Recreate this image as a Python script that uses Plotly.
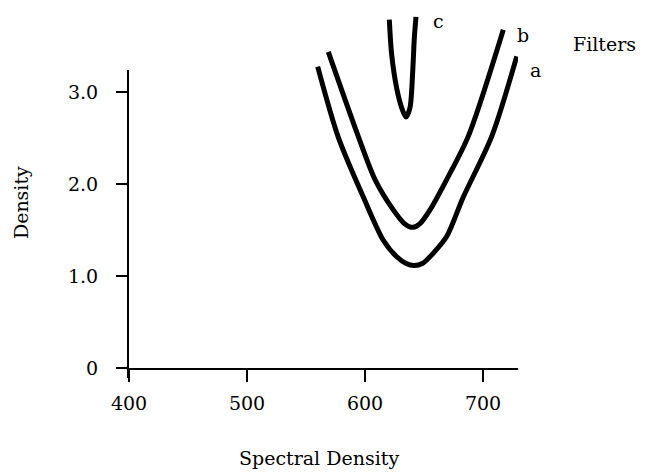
import plotly.graph_objects as go

# Data
series_names = ["a", "b", "c"]

a_x = [559.9, 577.4, 598.6, 615.5, 626.9, 634.5, 641.5, 649.0, 657.9, 669.2, 683.3, 707.4, 728.6]
a_y = [3.28, 2.51, 1.86, 1.39, 1.21, 1.14, 1.115, 1.14, 1.25, 1.43, 1.86, 2.52, 3.39]

b_x = [568.9, 594.3, 608.5, 624.0, 633.5, 640.7, 646.6, 655.1, 669.2, 687.5, 717.2]
b_y = [3.44, 2.52, 2.05, 1.72, 1.57, 1.53, 1.57, 1.72, 2.05, 2.52, 3.68]

c_x = [620.6, 622.6, 626.9, 631.1, 634.7, 638.1, 640.4, 641.8, 643.2]
c_y = [3.79, 3.41, 3.04, 2.83, 2.73, 2.83, 3.22, 3.59, 3.82]

x_ticks = [400, 500, 600, 700]
x_ticklabels = ["400", "500", "600", "700"]
y_ticks = [0, 1, 2, 3]
y_ticklabels = ["0", "1.0", "2.0", "3.0"]

legend_title = "Filters"
x_title = "Spectral Density"
y_title = "Density"

FONT = "DejaVu Serif"
FS = 19

fig = go.Figure()
for name, xs, ys in zip(series_names, [a_x, b_x, c_x], [a_y, b_y, c_y]):
    fig.add_trace(go.Scatter(
        x=xs, y=ys, mode="lines", name=name,
        line=dict(color="black", width=5, shape="spline", smoothing=0.8),
        showlegend=False,
    ))

# curve labels (paper coordinates)
label_pos = {"a": (1.046, 0.832), "b": (1.013, 0.930), "c": (0.797, 0.969)}
for name in series_names:
    lx, ly = label_pos[name]
    fig.add_annotation(x=lx, y=ly, xref="paper", yref="paper", text=name, showarrow=False,
                       xanchor="center", yanchor="middle",
                       font=dict(family=FONT, size=FS, color="black"))
fig.add_annotation(x=1.223, y=0.905, xref="paper", yref="paper", text=legend_title, showarrow=False,
                   xanchor="center", yanchor="middle",
                   font=dict(family=FONT, size=FS, color="black"))
fig.add_annotation(x=-0.274, y=0.461, xref="paper", yref="paper", text=y_title, showarrow=False,
                   xanchor="center", yanchor="middle", textangle=-90,
                   font=dict(family=FONT, size=FS, color="black"))
fig.add_annotation(x=0.49, y=-0.252, xref="paper", yref="paper", text=x_title, showarrow=False,
                   xanchor="center", yanchor="middle",
                   font=dict(family=FONT, size=FS, color="black"))

# visible y-axis line (stops near the 3.0 tick, extends slightly below the x axis)
fig.add_shape(type="line", xref="paper", yref="paper", x0=0, x1=0, y0=-0.028, y1=0.8324,
              line=dict(color="black", width=2))

fig.update_layout(
    width=651, height=474,
    margin=dict(l=128, r=133, t=10, b=106, autoexpand=False),
    paper_bgcolor="white", plot_bgcolor="white",
    font=dict(family=FONT, size=FS, color="black"),
    xaxis=dict(
        range=[399.15, 729.66], tickvals=x_ticks, ticktext=x_ticklabels,
        showline=True, linecolor="black", linewidth=2,
        ticks="outside", ticklen=12, tickwidth=2, tickcolor="black",
        showgrid=False, zeroline=False, ticklabelstandoff=5, automargin=False,
    ),
    yaxis=dict(
        range=[0, 3.895], tickvals=y_ticks, ticktext=y_ticklabels,
        showline=False,
        ticks="outside", ticklen=11, tickwidth=2, tickcolor="black",
        showgrid=False, zeroline=False, ticklabelstandoff=14, automargin=False,
    ),
)

fig.write_html("out.html", config={"displayModeBar": False},
               post_script="document.body.style.margin='0';")
